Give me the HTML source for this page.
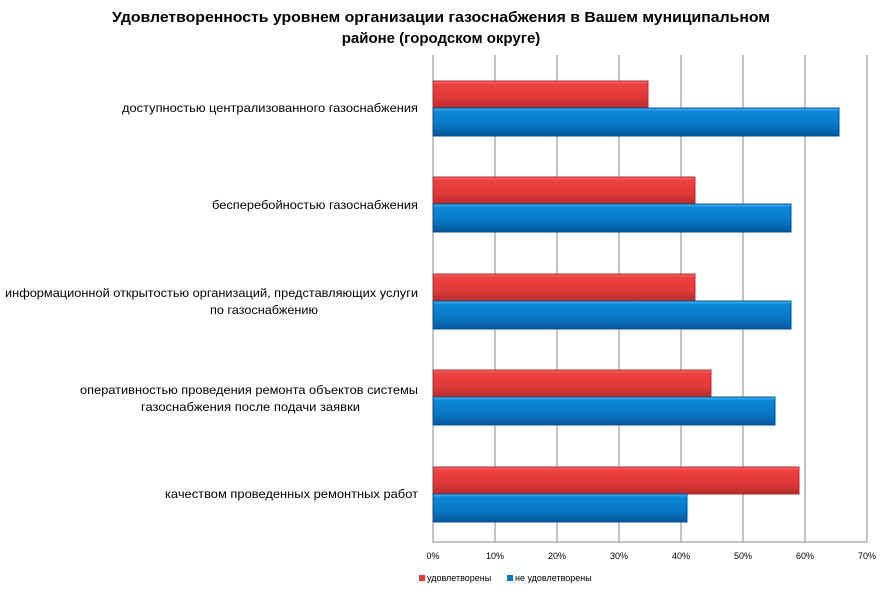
<!DOCTYPE html>
<html><head><meta charset="utf-8"><style>
body{margin:0;background:#fff;width:882px;height:589px;overflow:hidden;font-family:"Liberation Sans",sans-serif}
</style></head><body>
<svg width="882" height="589" xmlns="http://www.w3.org/2000/svg" font-family="Liberation Sans, sans-serif">
<defs>
<linearGradient id="r" x1="0" y1="0" x2="0" y2="1"><stop offset="0" stop-color="#f47070"/><stop offset="0.12" stop-color="#f04040"/><stop offset="0.6" stop-color="#e03a3a"/><stop offset="1" stop-color="#b82c2c"/></linearGradient>
<linearGradient id="b" x1="0" y1="0" x2="0" y2="1"><stop offset="0" stop-color="#5ab8f0"/><stop offset="0.12" stop-color="#0a88d8"/><stop offset="0.6" stop-color="#0a78c4"/><stop offset="1" stop-color="#05589a"/></linearGradient>
</defs>
<text x="112" y="22" textLength="658" lengthAdjust="spacingAndGlyphs" font-size="15" font-weight="bold" fill="#000">Удовлетворенность уровнем организации газоснабжения в Вашем муниципальном</text>
<text x="441" y="43" text-anchor="middle" font-size="15" font-weight="bold" fill="#000">районе (городском округе)</text>
<g stroke="#888" stroke-width="1">
<line x1="433" y1="55" x2="433" y2="542"/>
<line x1="495" y1="55" x2="495" y2="542"/>
<line x1="557" y1="55" x2="557" y2="542"/>
<line x1="619" y1="55" x2="619" y2="542"/>
<line x1="681" y1="55" x2="681" y2="542"/>
<line x1="743" y1="55" x2="743" y2="542"/>
<line x1="805" y1="55" x2="805" y2="542"/>
<line x1="867" y1="55" x2="867" y2="542"/>
<line x1="433" y1="542" x2="867" y2="542"/>
</g>
<g stroke-width="1">
<rect x="433" y="81" width="215" height="27" fill="url(#r)" stroke="#a83030"/>
<rect x="433" y="108" width="406" height="28" fill="url(#b)" stroke="#05508c"/>
<rect x="433" y="177" width="262" height="27" fill="url(#r)" stroke="#a83030"/>
<rect x="433" y="204" width="358" height="28" fill="url(#b)" stroke="#05508c"/>
<rect x="433" y="274" width="262" height="27" fill="url(#r)" stroke="#a83030"/>
<rect x="433" y="301" width="358" height="28" fill="url(#b)" stroke="#05508c"/>
<rect x="433" y="370" width="278" height="27" fill="url(#r)" stroke="#a83030"/>
<rect x="433" y="397" width="342" height="28" fill="url(#b)" stroke="#05508c"/>
<rect x="433" y="467" width="366" height="27" fill="url(#r)" stroke="#a83030"/>
<rect x="433" y="494" width="254" height="28" fill="url(#b)" stroke="#05508c"/>
</g>
<g font-size="12" fill="#000" lengthAdjust="spacingAndGlyphs">
<text x="122" y="112" textLength="296" lengthAdjust="spacingAndGlyphs">доступностью  централизованного газоснабжения</text>
<text x="212" y="209" textLength="206" lengthAdjust="spacingAndGlyphs">бесперебойностью  газоснабжения</text>
<text x="5" y="297" textLength="413" lengthAdjust="spacingAndGlyphs">информационной открытостью организаций, представляющих услуги</text>
<text x="210" y="314" textLength="108" lengthAdjust="spacingAndGlyphs">по газоснабжению</text>
<text x="80" y="394" textLength="338" lengthAdjust="spacingAndGlyphs">оперативностью проведения ремонта  объектов системы</text>
<text x="141" y="411" textLength="219" lengthAdjust="spacingAndGlyphs">газоснабжения после подачи заявки</text>
<text x="165" y="498" textLength="253" lengthAdjust="spacingAndGlyphs">качеством проведенных ремонтных  работ</text>
</g>
<g font-size="9" fill="#000" text-anchor="middle">
<text x="433" y="559">0%</text><text x="495" y="559">10%</text><text x="557" y="559">20%</text><text x="619" y="559">30%</text><text x="681" y="559">40%</text><text x="743" y="559">50%</text><text x="805" y="559">60%</text><text x="867" y="559">70%</text>
</g>
<rect x="419" y="575" width="6" height="6" fill="#e03a3a"/>
<text x="427" y="581" font-size="9">удовлетворены</text>
<rect x="507" y="575" width="6" height="6" fill="#0a78c4"/>
<text x="515" y="581" font-size="9">не удовлетворены</text>
</svg>
</body></html>
